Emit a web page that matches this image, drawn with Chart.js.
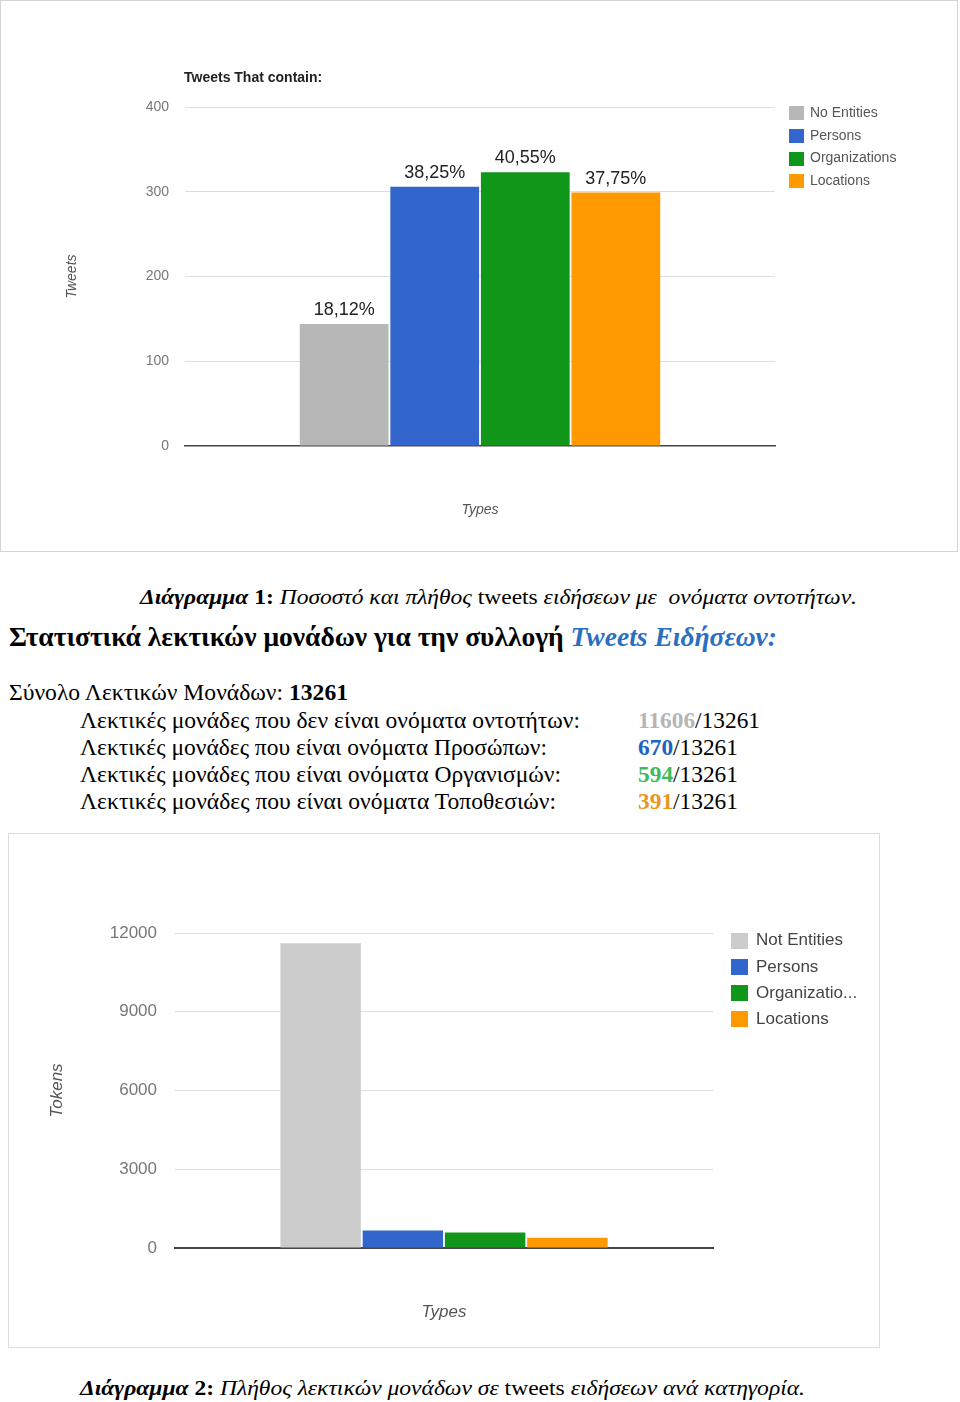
<!DOCTYPE html>
<html><head><meta charset="utf-8">
<script src="https://cdn.jsdelivr.net/npm/chart.js@4.4.1/dist/chart.umd.min.js"></script>
<style>
html,body{margin:0;padding:0;background:#fff;}
body{width:960px;height:1402px;position:relative;overflow:hidden;}
.frame{position:absolute;box-sizing:border-box;background:#fff;}
.frame canvas{display:block;}
.t{position:absolute;white-space:nowrap;font-family:'Liberation Serif','Times New Roman',serif;color:#000;line-height:1;transform-origin:0 0;}
</style></head><body>
<div class="frame" style="left:0;top:0;width:958px;height:552px;border:1px solid #d4d4d4;"><canvas id="c1" width="956" height="550"></canvas></div>

<div class="t" data-w="717" style="left:140px;top:587px;font-size:20px;"><b><i>Διάγραμμα</i> 1:</b> <i>Ποσοστό και πλήθος</i> tweets <i>ειδήσεων με&nbsp; ονόματα οντοτήτων.</i></div>
<div class="t" data-w="768" style="left:9px;top:624px;font-size:27px;font-weight:bold;">Στατιστικά λεκτικών μονάδων για την συλλογή <i style="color:#2a6fc2;">Tweets Ειδήσεων:</i></div>
<div class="t" id="totalLine" data-w="339" style="left:9px;top:681px;font-size:23px;"></div>
<div id="rows"></div>
<div class="t" data-w="725" style="left:80px;top:1378px;font-size:20px;"><b><i>Διάγραμμα</i> 2:</b> <i>Πλήθος λεκτικών μονάδων σε</i> tweets <i>ειδήσεων ανά κατηγορία.</i></div>

<div class="frame" style="left:8px;top:833px;width:872px;height:515px;border:1px solid #dcdcdc;"><canvas id="c2" width="870" height="513"></canvas></div>

<script>
// ---------- data ----------
const tweetSeries = ['No Entities', 'Persons', 'Organizations', 'Locations'];
const tweetCounts = [144, 306, 323, 299];
const tweetPercentLabels = ['18,12%', '38,25%', '40,55%', '37,75%'];
const tweetTicks = [0, 100, 200, 300, 400];

const tokenSeries = ['Not Entities', 'Persons', 'Organizations', 'Locations'];
const tokenCounts = [11606, 670, 594, 391];
const tokenTotal = 13261;
const tokenTicks = [0, 3000, 6000, 9000, 12000];

const tokenRowLabels = [
  'Λεκτικές μονάδες που δεν είναι ονόματα οντοτήτων:',
  'Λεκτικές μονάδες που είναι ονόματα Προσώπων:',
  'Λεκτικές μονάδες που είναι ονόματα Οργανισμών:',
  'Λεκτικές μονάδες που είναι ονόματα Τοποθεσιών:'
];

// ---------- styles ----------
const tweetColors = ['#b7b7b7', '#3366cc', '#109618', '#ff9900'];
const tokenColors = ['#cccccc', '#3366cc', '#109618', '#ff9900'];
const textNumColors = ['#b5b5b5', '#1d63c1', '#3dbb5c', '#ea961f'];
const rowWidths = [500, 467, 481, 476];
const valWidths = [122, 100, 100, 100];

// ---------- text block ----------
document.getElementById('totalLine').innerHTML = 'Σύνολο Λεκτικών Μονάδων: <b>' + tokenTotal + '</b>';
const rowsEl = document.getElementById('rows');
tokenRowLabels.forEach((lab, i) => {
  const top = 709 + i * 27;
  const a = document.createElement('div');
  a.className = 't'; a.dataset.w = rowWidths[i];
  a.style.cssText = `left:80px;top:${top}px;font-size:23px;`;
  a.textContent = lab;
  rowsEl.appendChild(a);
  const b = document.createElement('div');
  b.className = 't'; b.dataset.w = valWidths[i];
  b.style.cssText = `left:638px;top:${top}px;font-size:23px;`;
  b.innerHTML = `<b style="color:${textNumColors[i]}">${tokenCounts[i]}</b>/${tokenTotal}`;
  rowsEl.appendChild(b);
});
function fit() {
  document.querySelectorAll('.t[data-w]').forEach(el => {
    el.style.transform = 'none';
    const w = el.getBoundingClientRect().width;
    if (w > 0) el.style.transform = `scaleX(${el.dataset.w / w})`;
  });
}
fit();
if (document.fonts && document.fonts.ready) document.fonts.ready.then(fit);

// ---------- plugins ----------
const SANS = "'Liberation Sans', Arial, sans-serif";
Chart.defaults.font.family = SANS;

const boxLegend = {
  id: 'boxLegend',
  afterDraw(chart, args, o) {
    const ctx = chart.ctx, ca = chart.chartArea;
    ctx.save();
    ctx.font = o.font; ctx.textBaseline = 'middle'; ctx.textAlign = 'left';
    chart.data.datasets.forEach((ds, i) => {
      const cy = ca.top + o.dy + i * o.gap;
      const bx = ca.right + o.dx;
      ctx.fillStyle = ds.backgroundColor;
      ctx.fillRect(bx, Math.round(cy - o.boxH / 2), o.boxW, o.boxH);
      let txt = ds.label;
      if (ctx.measureText(txt).width > o.maxW) {
        while (txt.length && ctx.measureText(txt + '...').width > o.maxW) txt = txt.slice(0, -1);
        txt += '...';
      }
      ctx.fillStyle = o.color;
      ctx.fillText(txt, bx + o.textX, cy);
    });
    ctx.restore();
  }
};
const cornerTitle = {
  id: 'cornerTitle',
  afterDraw(chart, args, o) {
    if (!o.text) return;
    const ctx = chart.ctx;
    ctx.save();
    ctx.font = o.font; ctx.fillStyle = o.color; ctx.textBaseline = 'middle'; ctx.textAlign = 'left';
    ctx.fillText(o.text, chart.chartArea.left + o.dx, o.y);
    ctx.restore();
  }
};
const barLabels = {
  id: 'barLabels',
  afterDatasetsDraw(chart, args, o) {
    if (!o.labels) return;
    const ctx = chart.ctx;
    ctx.save();
    ctx.font = o.font; ctx.fillStyle = o.color; ctx.textAlign = 'center'; ctx.textBaseline = 'alphabetic';
    chart.data.datasets.forEach((ds, i) => {
      const el = chart.getDatasetMeta(i).data[0];
      ctx.fillText(o.labels[i], el.x, el.y - o.offset);
    });
    ctx.restore();
  }
};

function barChart(canvas, cfg) {
  return new Chart(canvas, {
    type: 'bar',
    data: {
      labels: [''],
      datasets: cfg.series.map((s, i) => ({
        label: s, data: [cfg.values[i]], backgroundColor: cfg.colors[i],
        barPercentage: cfg.barPct, categoryPercentage: cfg.catPct
      }))
    },
    options: {
      responsive: false, animation: false, events: [],
      layout: { padding: cfg.padding },
      plugins: {
        legend: { display: false }, tooltip: { enabled: false },
        boxLegend: cfg.legend, cornerTitle: cfg.title || {}, barLabels: cfg.labels || {}
      },
      scales: {
        x: {
          z: 1,
          grid: { display: false },
          border: { display: true, color: '#444', width: cfg.baseW },
          ticks: { display: false },
          title: { display: true, text: 'Types', color: '#555',
                   font: { family: SANS, size: cfg.axisFont, style: 'italic' },
                   padding: { top: 0, bottom: cfg.xTitlePad } },
          afterFit(s) { s.height = cfg.xHeight; }
        },
        y: {
          min: cfg.ticks[0], max: cfg.ticks[cfg.ticks.length - 1],
          afterBuildTicks(s) { s.ticks = cfg.ticks.map(v => ({ value: v })); },
          grid: { color: c => (c.tick && c.tick.value === 0) ? 'rgba(0,0,0,0)' : '#dedede', drawTicks: false, lineWidth: 1 },
          border: { display: false },
          ticks: { padding: cfg.tickPad, color: '#777', font: { family: SANS, size: cfg.tickFont },
                   callback: v => String(v) },
          title: { display: true, text: cfg.yTitle, color: '#555',
                   font: { family: SANS, size: cfg.axisFont, style: 'italic' },
                   padding: { top: cfg.yTitlePad, bottom: 0 } },
          afterFit(s) { s.width = cfg.yWidth; }
        }
      }
    },
    plugins: [boxLegend, cornerTitle, barLabels]
  });
}

barChart(document.getElementById('c1'), {
  series: tweetSeries, values: tweetCounts, colors: tweetColors, ticks: tweetTicks,
  barPct: 0.98, catPct: 0.614,
  padding: { left: 0, top: 106, right: 182, bottom: 0 },
  yWidth: 184, xHeight: 105, tickPad: 16, tickFont: 14, axisFont: 14, baseW: 1.5,
  yTitle: 'Tweets', yTitlePad: 62.6, xTitlePad: 32.6,
  legend: { font: `14px ${SANS}`, color: '#555', dx: 14, dy: 6.3, gap: 22.6, boxW: 15, boxH: 14, textX: 21, maxW: 200 },
  title: { text: 'Tweets That contain:', font: `bold 14px ${SANS}`, color: '#222', dx: -1, y: 77 },
  labels: { labels: tweetPercentLabels, font: `18px ${SANS}`, color: '#222', offset: 9 }
});

barChart(document.getElementById('c2'), {
  series: tokenSeries, values: tokenCounts, colors: tokenColors, ticks: tokenTicks,
  barPct: 0.978, catPct: 0.6115,
  padding: { left: 0, top: 99, right: 166, bottom: 0 },
  yWidth: 166, xHeight: 99, tickPad: 18, tickFont: 17, axisFont: 17, baseW: 2,
  yTitle: 'Tokens', yTitlePad: 38.3, xTitlePad: 24.8,
  legend: { font: `17px ${SANS}`, color: '#444', dx: 18, dy: 7.7, gap: 26.2, boxW: 17, boxH: 16, textX: 25, maxW: 103 }
});
</script>
</body></html>
